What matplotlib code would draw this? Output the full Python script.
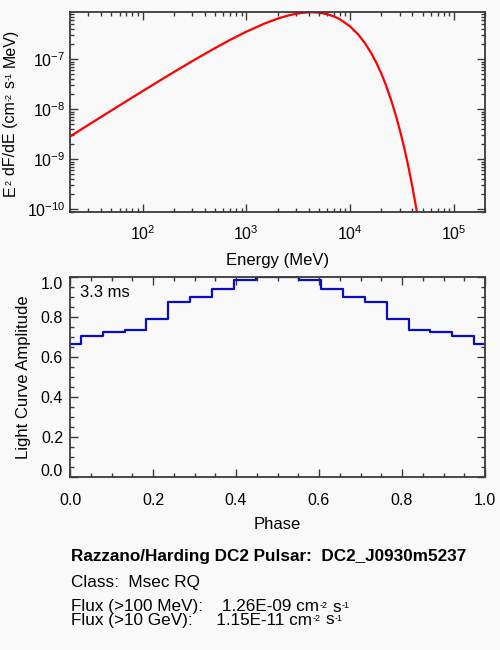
import numpy as np
import matplotlib
matplotlib.use("Agg")
import matplotlib.pyplot as plt
from matplotlib.ticker import LogLocator, MultipleLocator, FixedLocator, FixedFormatter

plt.rcParams['font.family'] = ['Liberation Sans', 'DejaVu Sans']
plt.rcParams['mathtext.fontset'] = 'custom'
plt.rcParams['mathtext.rm'] = 'Liberation Sans'
plt.rcParams['mathtext.it'] = 'Liberation Sans:italic'
plt.rcParams['mathtext.bf'] = 'Liberation Sans:bold'

# ---- data: spectrum ----
energy_mev = [20, 30, 50, 70, 100, 150, 200, 300, 500, 700, 1000, 1500, 2000,
              2500, 3000, 3500, 4000, 4500, 5000, 6000, 7000, 8000, 10000,
              12000, 14000, 16000, 18000, 20000, 22000, 25000, 28000, 31000,
              34000, 37000, 40000, 43000, 46000]
e2dfde = [2.86e-9, 4.85e-9, 9.42e-9, 1.455e-8, 2.30e-8, 3.85e-8, 5.53e-8,
          9.12e-8, 1.675e-7, 2.446e-7, 3.557e-7, 5.19e-7, 6.486e-7, 7.45e-7,
          8.11e-7, 8.51e-7, 8.70e-7, 8.70e-7, 8.56e-7, 7.99e-7, 7.19e-7,
          6.30e-7, 4.56e-7, 3.13e-7, 2.07e-7, 1.331e-7, 8.40e-8, 5.21e-8,
          3.19e-8, 1.498e-8, 6.91e-9, 3.13e-9, 1.406e-9, 6.24e-10, 2.75e-10,
          1.20e-10, 5.20e-11]

# ---- data: light curve ----
phase = [0.0, 0.0526, 0.1053, 0.1579, 0.2105, 0.2632, 0.3158, 0.3684, 0.4211,
         0.4737, 0.5263, 0.5789, 0.6316, 0.6842, 0.7368, 0.7895, 0.8421,
         0.8947, 0.9474, 1.0]
amplitude = [0.667, 0.705, 0.726, 0.737, 0.791, 0.875, 0.903, 0.941, 0.986,
             1.0, 1.0, 0.986, 0.941, 0.903, 0.875, 0.791, 0.737, 0.726,
             0.705, 0.667]
amp_ticks = [0.0, 0.2, 0.4, 0.6, 0.8, 1.0]
amp_tick_labels = ['0.0', '0.2', '0.4', '0.6', '0.8', '1.0']

title_line = "Razzano/Harding DC2 Pulsar:  DC2_J0930m5237"
class_line = "Class:  Msec RQ"
flux100_parts = [("Flux (>100 MeV):    1.26E-09 cm", 0), ("-2", 1), (None, 0),
                 ("s", 0), ("-1", 1)]
flux10g_parts = [("Flux (>10 GeV):     1.15E-11 cm", 0), ("-2", 1), (None, 0),
                 ("s", 0), ("-1", 1)]
ylabel_top_parts = [("E", 0), ("2", 1), (None, 0), ("dF/dE (cm", 0), ("-2", 1),
                    (None, 0), ("s", 0), ("-1", 1), (None, 0), ("MeV)", 0)]
period_label = "3.3 ms"

BG = '#f9f9f9'
AX = '#3a3a3a'
W, H = 500, 650
FS = 12
BFS = 12.3
TFS = 11.5
SUPFS = 6.5
fig = plt.figure(figsize=(W / 100, H / 100), dpi=100, facecolor=BG)
renderer = fig.canvas.get_renderer()


def rect(l, t, r, b):
    return [l / W, 1 - b / H, (r - l) / W, (b - t) / H]


def style(ax):
    ax.set_facecolor(BG)
    for s in ax.spines.values():
        s.set_color(AX)
        s.set_linewidth(1.3)
    ax.tick_params(which='both', direction='in', top=True, right=True,
                   color=AX, labelcolor='black', labelsize=TFS, width=1.0)
    ax.tick_params(which='major', length=5.5)
    ax.tick_params(which='minor', length=3)


def compose(x0, y0, parts, size, rotation=0, center=False):
    """x0, y0 in pixels from the top-left corner; baseline start."""
    texts = []
    pos = 0.0
    space = 0.38 * size
    raise_px = 3.5
    for txt, sup in parts:
        if txt is None:
            pos += space
            continue
        t = fig.text(0, 0, txt, fontsize=SUPFS if sup else size,
                     rotation=rotation, rotation_mode='anchor',
                     ha='left', va='baseline')
        texts.append((t, pos, sup))
        bb = t.get_window_extent(renderer=renderer)
        pos += (bb.width if rotation == 0 else bb.height) + (0.6 if sup else 0.3)
    shift = pos / 2 if center else 0
    for t, p, sup in texts:
        r = raise_px if sup else 0
        if rotation == 0:
            x = x0 + p - shift
            y = (H - y0) + r
        else:
            x = x0 - r
            y = (H - y0) + p - shift
        t.set_position((x / W, y / H))


# ---- top panel ----
ax1 = fig.add_axes(rect(70, 12.3, 485, 212.3))
style(ax1)
ax1.plot(energy_mev, e2dfde, color='#ff0000', lw=1.6)
ax1.set_xscale('log')
ax1.set_yscale('log')
ax1.set_xlim(20, 2.0e5)
ax1.set_ylim(8.7e-11, 8.7e-7)
ax1.xaxis.set_major_locator(LogLocator(base=10, numticks=10))
ax1.xaxis.set_minor_locator(LogLocator(base=10, subs=np.arange(2, 10), numticks=20))
ax1.yaxis.set_major_locator(LogLocator(base=10, numticks=10))
ax1.yaxis.set_minor_locator(LogLocator(base=10, subs=np.arange(2, 10), numticks=20))
ax1.tick_params(axis='x', which='major', pad=9)
ax1.tick_params(axis='y', which='major', pad=3.5)
ax1.set_xlabel('Energy (MeV)', fontsize=FS, labelpad=6.5)
compose(15, 112.5, ylabel_top_parts, 11.5, rotation=90, center=True)

# ---- bottom panel ----
ax2 = fig.add_axes(rect(70, 277.3, 485, 477.3))
style(ax2)
ax2.step(phase, amplitude, where='mid', color='#0a0ac8', lw=1.6)
ax2.set_xlim(0, 1)
ax2.set_ylim(0, 1)
ax2.xaxis.set_major_locator(MultipleLocator(0.2))
ax2.xaxis.set_minor_locator(MultipleLocator(0.05))
ax2.yaxis.set_major_locator(FixedLocator(amp_ticks))
ax2.yaxis.set_minor_locator(MultipleLocator(0.05))
ax2.xaxis.set_major_formatter(matplotlib.ticker.FormatStrFormatter('%.1f'))
# end labels of the amplitude axis sit slightly inside the frame (as in the original)
ax2.yaxis.set_major_formatter(FixedFormatter([''] + amp_tick_labels[1:-1] + ['']))
ax2.annotate(amp_tick_labels[-1], xy=(0, amp_ticks[-1]),
             xycoords=('axes fraction', 'data'), xytext=(-5, -5),
             textcoords='offset points', ha='right', va='center', fontsize=TFS)
ax2.annotate(amp_tick_labels[0], xy=(0, amp_ticks[0]),
             xycoords=('axes fraction', 'data'), xytext=(-5, 4),
             textcoords='offset points', ha='right', va='center', fontsize=TFS)
ax2.tick_params(axis='x', which='major', pad=11)
ax2.tick_params(axis='y', which='major', pad=5)
ax2.set_xlabel('Phase', fontsize=FS, labelpad=6.5)
ax2.set_ylabel('Light Curve Amplitude', fontsize=FS, labelpad=7)
ax2.text(10 / 415, 1 - 15.5 / 200, period_label, transform=ax2.transAxes,
         fontsize=FS, ha='left', va='center')

# ---- text block ----
fig.text(71 / W, 1 - 561.5 / H, title_line, fontsize=BFS, fontweight='bold',
         ha='left', va='baseline')
fig.text(71 / W, 1 - 587 / H, class_line, fontsize=BFS, ha='left', va='baseline')
compose(71, 611.5, flux100_parts, BFS)
compose(71, 624.5, flux10g_parts, BFS)

fig.savefig('out.png', dpi=100, facecolor=BG)
